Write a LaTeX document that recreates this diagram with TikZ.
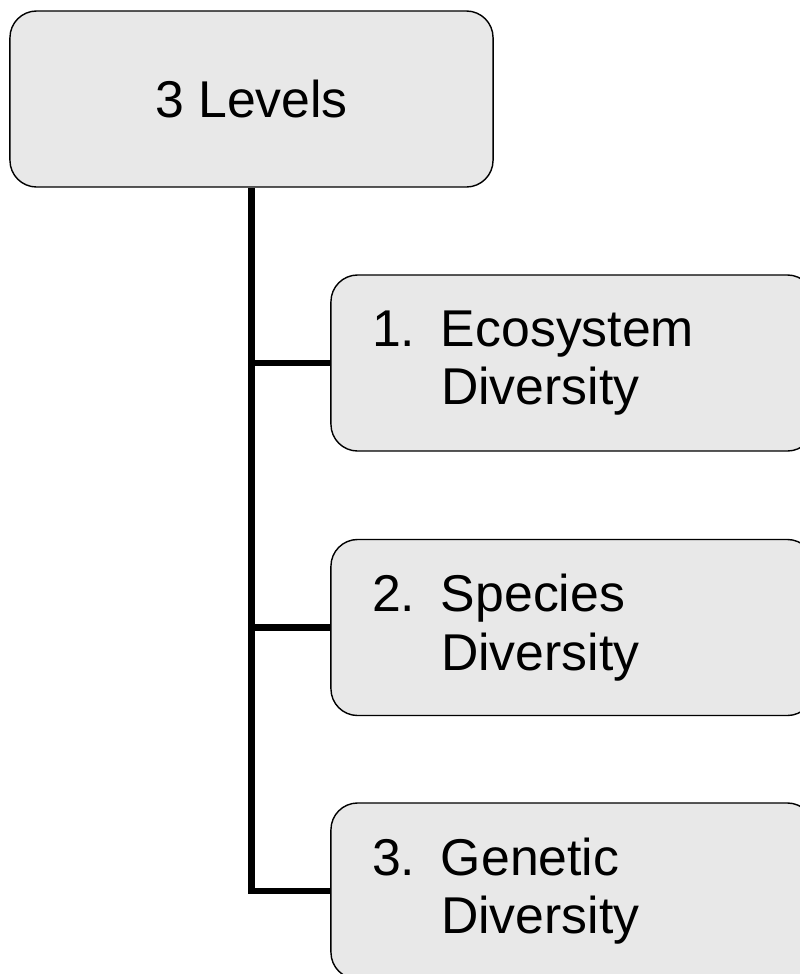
\documentclass[tikz,border=0pt]{standalone}
\usepackage{fontspec}
\setmainfont{Liberation Sans}
\usepackage{tikz}
\definecolor{boxfill}{RGB}{232,232,232}
\tikzstyle{level}=[rectangle, rounded corners=19pt, draw=black, line width=1pt, fill=boxfill, minimum width=12.075cm, minimum height=4.4cm, inner sep=0pt, font=\fontsize{36.8}{41.5}\selectfont]
\tikzstyle{sublevel} = [level, align=left, text width=285pt, inner xsep=29pt]
\tikzstyle{branch} = [draw, line width=4.3pt, -, black]
\newcommand{\numitem}[3]{\makebox[49pt][l]{#1}#2\\\hspace*{49pt}#3}

\begin{document}
\begin{tikzpicture}[x=0.025cm, y=-0.025cm]

	\useasboundingbox (0,0) rectangle (800,974);
	\clip (0,0) rectangle (800,974);

	\node[level] (top) at (251.5, 99) {3 Levels};

	\node[sublevel] (eco) at (572.5, 363) {\numitem{1.}{Ecosystem}{Diversity}};
	\node[sublevel] (spec) at (572.5, 627.5) {\numitem{2.}{Species}{Diversity}};
	\node[sublevel] (gene) at (572.5, 891) {\numitem{3.}{Genetic}{Diversity}};

	\draw[branch] (top.south) |- (gene.west);
	\foreach \target in {eco, spec}{
		\draw[branch] (top.south |- \target.west) -- (\target.west);
	}

\end{tikzpicture}
\end{document}
